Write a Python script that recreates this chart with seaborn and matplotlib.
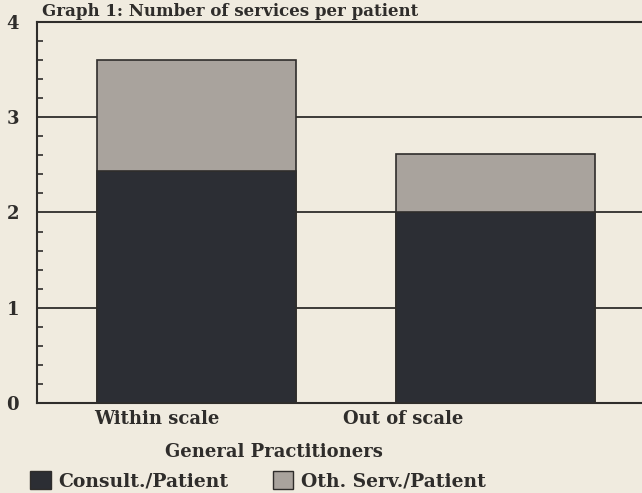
import matplotlib
matplotlib.use("Agg")
import matplotlib.pyplot as plt
import matplotlib.patches as mpatches
from matplotlib.ticker import MultipleLocator
import seaborn as sns
import pandas as pd

# Data: services per patient, by GP group
groups = ["Within scale", "Out of scale"]
consult_per_patient = [2.44, 2.0]
other_per_patient = [1.16, 0.61]
series_names = ["Consult./Patient", "Oth. Serv./Patient"]
y_ticks = [0, 1, 2, 3, 4]

title = "Graph 1: Number of services per patient"
x_title = "General Practitioners"

paper = "#f0ebdf"
ink = "#2f2d2b"
dark = "#2c2e34"
grey = "#a9a39d"

sns.set_theme(style="white")
plt.rcParams["font.family"] = ["DejaVu Serif"]
plt.rcParams["font.weight"] = "bold"

totals = [c + o for c, o in zip(consult_per_patient, other_per_patient)]
df = pd.DataFrame({"group": groups, "consult": consult_per_patient, "total": totals})

fig = plt.figure(figsize=(6.42, 4.93), dpi=100, facecolor=paper)
ax = fig.add_axes([0.0576, 0.1826, 0.95, 0.7728])
ax.set_facecolor(paper)

# Stacked bars: total drawn first, consultations on top
sns.barplot(data=df, x="group", y="total", color=grey, width=0.666,
            edgecolor=ink, linewidth=1.2, saturation=1, ax=ax, zorder=2)
sns.barplot(data=df, x="group", y="consult", color=dark, width=0.666,
            edgecolor=ink, linewidth=1.2, saturation=1, ax=ax, zorder=3)

ax.set_xlim(-0.533, 1.507)
ax.set_ylim(0, 4)
ax.set_yticks(y_ticks)
ax.yaxis.set_minor_locator(MultipleLocator(0.2))
ax.tick_params(axis="y", which="major", length=0, pad=13, labelsize=13, colors=ink)
ax.tick_params(axis="y", which="minor", direction="in", length=4, width=1.2, color=ink, left=True)
ax.set_yticklabels([str(t) for t in y_ticks], fontweight="bold", color=ink)
ax.yaxis.grid(True, color=ink, linewidth=1.3, zorder=1)
ax.set_axisbelow(True)

ax.set_xticks([])
ax.set_xlabel("")
ax.set_ylabel("")
for side in ["top", "left", "bottom", "right"]:
    ax.spines[side].set_color(ink)
    ax.spines[side].set_linewidth(1.5)

# Group labels sit slightly left of the bar centres
for pos, name in zip([-0.132, 0.691], groups):
    ax.text(pos, -0.17, name, ha="center", va="center", fontsize=13,
            fontweight="bold", color=ink)

fig.text(274 / 642, 1 - 452 / 493, x_title, ha="center", va="center",
         fontsize=13, fontweight="bold", color=ink)
fig.text(230 / 642, 1 - 16 / 493, title, ha="center", va="baseline",
         fontsize=12, fontweight="bold", color=ink)

handles = [mpatches.Patch(facecolor=dark, edgecolor=ink, label=series_names[0]),
           mpatches.Patch(facecolor=grey, edgecolor=ink, label=series_names[1])]
fig.legend(handles=handles, loc="center left", bbox_to_anchor=(21 / 642, 1 - 481 / 493),
           ncol=2, frameon=False, fontsize=13.5, handlelength=1.1, handleheight=1.1,
           handletextpad=0.4, columnspacing=2.35, borderpad=0, labelcolor=ink)

fig.savefig("out.png", dpi=100, facecolor=paper)
